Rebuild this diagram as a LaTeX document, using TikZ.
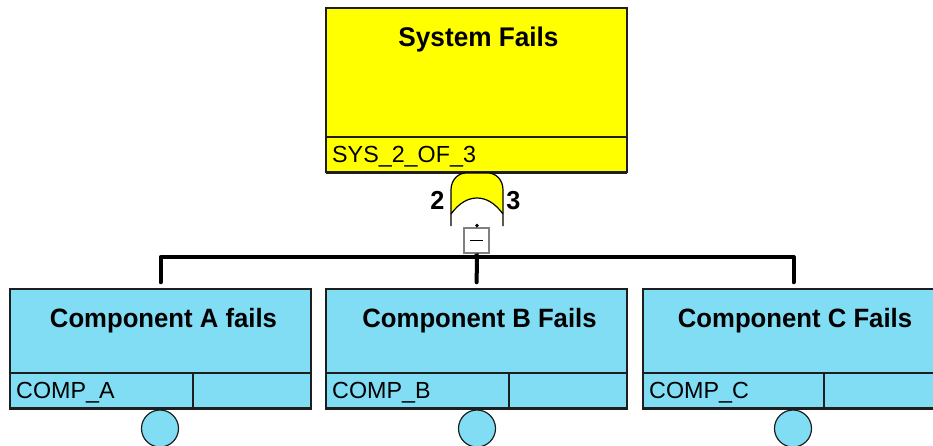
\documentclass[tikz,border=0pt]{standalone}
\usepackage{fontspec}
\setmainfont{Liberation Sans}
\newfontfamily\titlefont[FakeStretch=0.97]{Liberation Sans}
\definecolor{gateyellow}{RGB}{255,255,0}
\definecolor{compblue}{RGB}{128,221,244}
\definecolor{edgegray}{RGB}{30,30,30}
\tikzset{
  boxframe/.style={draw=edgegray, line width=1.5pt, rectangle, inner sep=0pt},
  sysbox/.style={boxframe, fill=gateyellow, minimum width=301pt, minimum height=164pt},
  compbox/.style={boxframe, fill=compblue, minimum width=301pt, minimum height=120pt},
  titletext/.style={anchor=base, inner sep=0pt, font=\titlefont\bfseries\fontsize{26.5}{28}\selectfont},
  idtext/.style={anchor=base west, inner sep=0pt, font=\fontsize{23.3}{25}\selectfont},
  eventcirc/.style={circle, draw=edgegray, line width=1.2pt, fill=compblue, minimum size=37pt, inner sep=0pt},
  minusbox/.style={rectangle, draw=gray, line width=1.2pt, fill=white, minimum size=25pt, inner sep=0pt},
  busline/.style={line width=4pt, line join=round, line cap=round},
  divider/.style={line width=1.5pt, draw=edgegray},
}
\begin{document}
\begin{tikzpicture}[x=1pt,y=-1pt]
\useasboundingbox (0,0) rectangle (933,445);
\clip (0,0) rectangle (933,445);
\fill[white] (0,0) rectangle (933,445);

% top event
\node[sysbox] (sys) at (476.5,90) {};
\draw[divider] (326,137) -- (627,137);
\draw[line width=3pt, draw=edgegray] (326,172) -- (627,172);
\node[titletext, font=\titlefont\bfseries\fontsize{27}{29}\selectfont] (systitle) at (478.5,46) {System Fails};
\node[idtext] (sysid) at (332,162) {SYS\_2\_OF\_3};

% voting gate
\coordinate (gtop) at (477,173);
\fill[gateyellow] (451,214) -- (451,190) .. controls (451,180) and (458,173) .. (466,173) -- (488,173)
   .. controls (496,173) and (503,180) .. (503,190) -- (503,214)
   .. controls (495,203) and (486,198) .. (477,198) .. controls (468,198) and (459,203) .. (451,214) -- cycle;
\draw[line width=1.2pt] (451,226) -- (451,190) .. controls (451,180) and (458,173) .. (466,173) -- (488,173)
   .. controls (496,173) and (503,180) .. (503,190) -- (503,226);
\draw[line width=1.2pt] (451,214) .. controls (459,203) and (468,198) .. (477,198) .. controls (486,198) and (495,203) .. (503,214);
\node[titletext, font=\titlefont\bfseries\fontsize{26}{28}\selectfont] (gk) at (437.5,209) {2};
\node[titletext, font=\titlefont\bfseries\fontsize{26}{28}\selectfont] (gn) at (513.5,209) {3};

% output
\coordinate (gout) at (477,225.5);
\fill (gout) circle (1.8pt);
\node[minusbox] (mb) at (476.5,240.5) {};
\draw[line width=1.5pt] ([xshift=-6.5pt]mb.center) -- ([xshift=6.5pt]mb.center);
\draw[line width=1pt] (gout) -- (mb.north);

% basic events
\node[compbox] (ca) at (160.5,349) {};
\node[compbox] (cb) at (476.5,349) {};
\node[compbox] (cc) at (793.5,349) {};
\foreach \l/\r/\d in {10/311/193, 326/627/509, 643/944/824}{
  \draw[divider] (\l,373) -- (\r,373);
  \draw[divider] (\d,373) -- (\d,409);
  \draw[line width=3pt, draw=edgegray] (\l,408.5) -- (\r,408.5);
}
\node[titletext] (ta) at (163.5,327) {Component A fails};
\node[titletext] (tb) at (479.5,327) {Component B Fails};
\node[titletext] (tc) at (795,327) {Component C Fails};
\node[idtext] (ia) at (16,398) {COMP\_A};
\node[idtext] (ib) at (332,398) {COMP\_B};
\node[idtext] (ic) at (649,398) {COMP\_C};

\node[eventcirc] (ea) at (160,428.5) {};
\node[eventcirc] (eb) at (477,428.5) {};
\node[eventcirc] (ec) at (793,428.5) {};

% bus
\coordinate (bus) at (477,257);
\draw[busline, line cap=butt] (mb.south) -- (bus);
\draw[busline, shorten >=6pt] (bus) -| (ca.north);
\draw[busline, shorten >=6pt] (bus) -| (cc.north);
\draw[busline, shorten >=6pt] (bus) -- (cb.north);
\end{tikzpicture}
\end{document}
